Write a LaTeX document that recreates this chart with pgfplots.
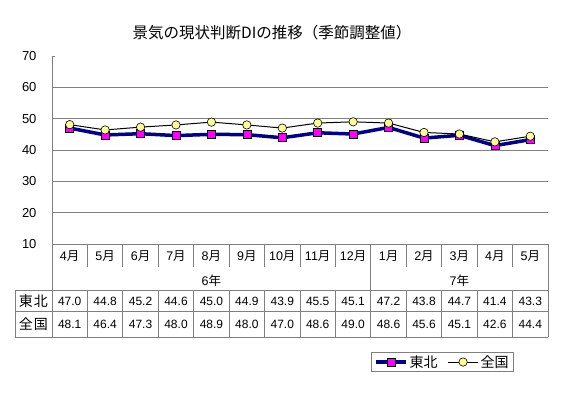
\documentclass[border=0pt]{standalone}
\usepackage{pgfplots}
\pgfplotsset{compat=1.18}
\usepackage{fontspec}
\setmainfont{Liberation Sans}
\newfontfamily\jp{Noto Sans CJK JP}
\definecolor{navyc}{RGB}{0,0,128}
\definecolor{magc}{RGB}{255,0,255}
\definecolor{yelc}{RGB}{255,255,153}
\definecolor{gridc}{RGB}{128,128,128}
\pgfplotstableread{
x tohoku zenkoku
0 47.0 48.1
1 44.8 46.4
2 45.2 47.3
3 44.6 48.0
4 45.0 48.9
5 44.9 48.0
6 43.9 47.0
7 45.5 48.6
8 45.1 49.0
9 47.2 48.6
10 43.8 45.6
11 44.7 45.1
12 41.4 42.6
13 43.3 44.4
}\datatable
\begin{document}
\begin{tikzpicture}
\path[fill=white] (0pt,0pt) rectangle (563pt,394pt);
\begin{axis}[
  at={(52pt,150pt)}, anchor=south west,
  scale only axis, width=496pt, height=188pt,
  xmin=-0.5, xmax=13.5, ymin=10, ymax=70,
  ytick={10,20,...,70}, xtick=\empty,
  axis x line=none, axis y line*=left,
  y axis line style={gridc, line width=0.8pt},
  extra y ticks={20,30,40,50,60}, extra y tick labels={},
  extra y tick style={grid=major, major tick length=0pt},
  grid style={gridc, line width=0.8pt},
  major tick length=3pt, ytick style={gridc, line width=0.8pt},
  tick align=inside,
  yticklabel style={font=\fontsize{13}{15}\selectfont, xshift=-12pt},
  /pgf/number format/assume math mode=true,
  clip=false,
  legend columns=2,
  legend image code/.code={\draw[mark repeat=2,mark phase=2,#1] plot coordinates {(0pt,0pt)(15pt,0pt)(30pt,0pt)};},
  legend style={at={(0.6425,-0.5745)}, anchor=north west, draw=gridc, line width=0.8pt,
    font=\jp\fontsize{14}{16}\selectfont, inner xsep=3pt, inner ysep=1pt,
    /tikz/every even column/.append style={column sep=8pt}},
]
\addplot[navyc, line width=3.5pt, mark=square*, mark size=4pt,
  mark options={fill=magc, draw=black, line width=0.6pt, solid}]
  table[x=x, y=tohoku] {\datatable};
\addlegendentry{東北}
\addplot[black, line width=1pt, mark=*, mark size=4.2pt,
  mark options={fill=yelc, draw=black, line width=0.6pt, solid}]
  table[x=x, y=zenkoku] {\datatable};
\addlegendentry{全国}
\end{axis}
% title
\node[font=\jp\fontsize{15.5}{18}\selectfont] at (272pt,361pt) {景気の現状判断DIの推移（季節調整値）};
% table lines
\begin{scope}[gridc, line width=0.8pt]
\draw (52pt,150pt) -- (548pt,150pt);
\draw (15pt,104pt) -- (548pt,104pt);
\draw (15pt,82.3pt) -- (548pt,82.3pt);
\draw (15pt,57pt) -- (548pt,57pt);
\draw (15pt,104pt) -- (15pt,57pt);
\draw (52pt,150pt) -- (52pt,57pt);
\draw (548pt,150pt) -- (548pt,57pt);
\draw (370.86pt,150pt) -- (370.86pt,57pt);
\foreach \i in {1,...,8,10,11,12,13} {
  \draw ({(52+35.4286*\i)*1pt},150pt) -- ({(52+35.4286*\i)*1pt},127pt);
  \draw ({(52+35.4286*\i)*1pt},104pt) -- ({(52+35.4286*\i)*1pt},57pt);
}
\end{scope}
% month labels
\foreach \m [count=\i from 0] in {4,5,6,7,8,9,10,11,12,1,2,3,4,5} {
  \node[font=\fontsize{12.5}{14}\selectfont] at ({(69.714+35.4286*\i)*1pt},138pt) {\m{\jp 月}};
}
\node[font=\fontsize{12.5}{14}\selectfont] at (211.4pt,113pt) {6{\jp 年}};
\node[font=\fontsize{12.5}{14}\selectfont] at (459.4pt,113pt) {7{\jp 年}};
% row labels
\node[font=\jp\fontsize{14}{16}\selectfont] at (33.5pt,93pt) {東\hspace{1pt}北};
\node[font=\jp\fontsize{14}{16}\selectfont] at (33.5pt,69.5pt) {全\hspace{1pt}国};
\foreach \v [count=\i from 0] in {47.0,44.8,45.2,44.6,45.0,44.9,43.9,45.5,45.1,47.2,43.8,44.7,41.4,43.3} {
  \node[font=\fontsize{12}{14}\selectfont] at ({(69.714+35.4286*\i)*1pt},93pt) {\v};
}
\foreach \v [count=\i from 0] in {48.1,46.4,47.3,48.0,48.9,48.0,47.0,48.6,49.0,48.6,45.6,45.1,42.6,44.4} {
  \node[font=\fontsize{12}{14}\selectfont] at ({(69.714+35.4286*\i)*1pt},69.5pt) {\v};
}
\end{tikzpicture}
\end{document}
